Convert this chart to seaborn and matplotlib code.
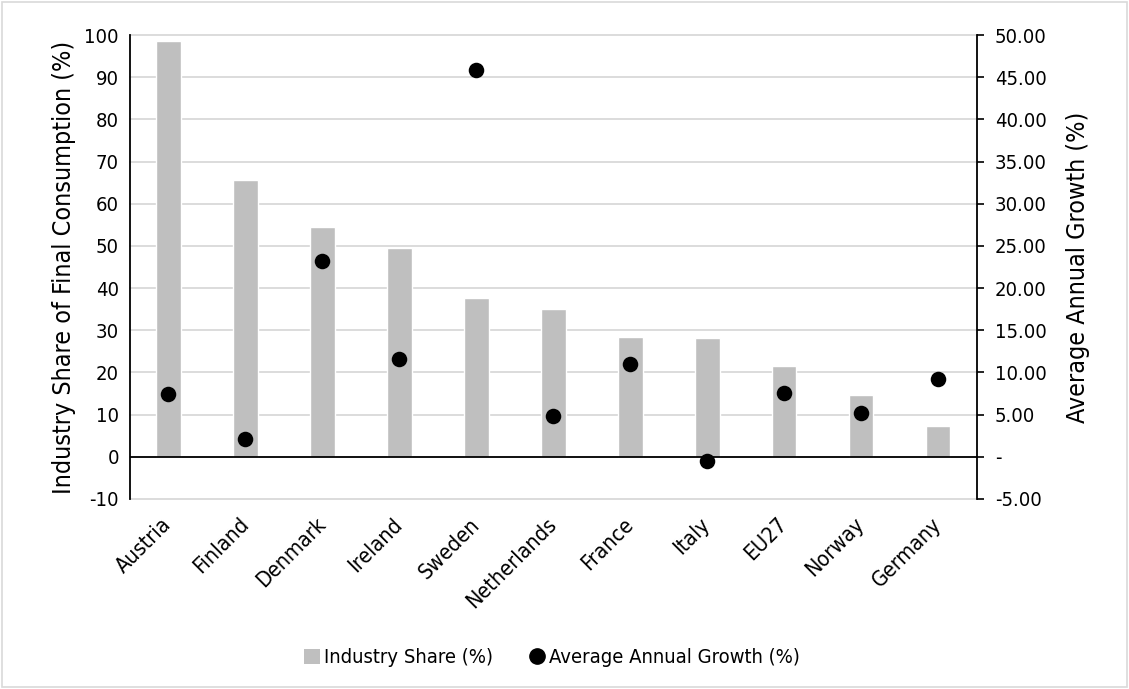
import matplotlib
matplotlib.use("Agg")
import matplotlib.pyplot as plt
from matplotlib.patches import Rectangle, Patch
from matplotlib.lines import Line2D
from matplotlib.ticker import FuncFormatter, MultipleLocator
import seaborn as sns
import pandas as pd

countries = ["Austria", "Finland", "Denmark", "Ireland", "Sweden", "Netherlands",
             "France", "Italy", "EU27", "Norway", "Germany"]
industry_share = [98.6, 65.6, 54.4, 49.4, 37.7, 35.0, 28.5, 28.1, 21.5, 14.7, 7.3]
annual_growth = [7.5, 2.1, 23.2, 11.6, 45.8, 4.8, 11.0, -0.5, 7.6, 5.2, 9.2]

df = pd.DataFrame({"country": countries, "share": industry_share, "growth": annual_growth})

sns.set_style("white")
plt.rcParams["font.family"] = ["DejaVu Sans"]
plt.rcParams["font.stretch"] = "condensed"
plt.rcParams["axes.unicode_minus"] = False
plt.rcParams["text.color"] = "black"
plt.rcParams["axes.labelcolor"] = "black"
plt.rcParams["xtick.color"] = "black"
plt.rcParams["ytick.color"] = "black"
FS = 14.5
LABEL_FS = 18
XFS = 15.5

fig = plt.figure(figsize=(11.29, 6.89), dpi=100)
ax1 = fig.add_axes([0.1151, 0.2758, 0.7499, 0.6734])

GRID = "#d9d9d9"
BAR = "#bfbfbf"

sns.barplot(data=df, x="country", y="share", color=BAR, width=0.32,
            saturation=1, ax=ax1, zorder=2)
ax1.set_ylim(-10, 100)
ax1.set_xlim(-0.5, len(countries) - 0.5)
ax1.yaxis.set_major_locator(MultipleLocator(10))
ax1.grid(axis="y", color=GRID, lw=1.3, zorder=0)
ax1.set_axisbelow(True)
for gl in ax1.get_ygridlines():
    gl.set_clip_on(False)
ax1.axhline(0, color="black", lw=1.3, zorder=3)
ax1.set_xlabel("")
ax1.set_ylabel("Industry Share of Final Consumption (%)", fontsize=LABEL_FS, labelpad=6)
ax1.tick_params(axis="y", labelsize=FS, length=0, pad=8)
ax1.tick_params(axis="x", labelsize=XFS, length=0, pad=16)
for lab in ax1.get_xticklabels():
    lab.set_rotation(45)
    lab.set_ha("right")
    lab.set_va("center")
    lab.set_rotation_mode("anchor")
for side in ["top", "bottom", "right"]:
    ax1.spines[side].set_visible(False)
ax1.spines["left"].set_color("black")
ax1.spines["left"].set_linewidth(1.3)

ax2 = ax1.twinx()
sns.scatterplot(data=df, x="country", y="growth", color="black", s=125,
                edgecolor="black", linewidth=0, ax=ax2, zorder=4, legend=False)
ax2.set_ylim(-5, 50)
ax2.set_xlim(-0.5, len(countries) - 0.5)
ax2.yaxis.set_major_locator(MultipleLocator(5))
ax2.yaxis.set_major_formatter(FuncFormatter(lambda v, p: "-" if abs(v) < 1e-9 else f"{v:.2f}"))
ax2.set_ylabel("Average Annual Growth (%)", fontsize=LABEL_FS, labelpad=14)
ax2.tick_params(axis="y", labelsize=FS, length=5, width=1.2, direction="out", color="black", pad=8)
for side in ["top", "bottom", "left"]:
    ax2.spines[side].set_visible(False)
ax2.spines["right"].set_color("black")
ax2.spines["right"].set_linewidth(1.3)
ax2.set_xlabel("")

handles = [Patch(facecolor=BAR, edgecolor="none", label="Industry Share (%)"),
           Line2D([0], [0], marker="o", color="none", markerfacecolor="black",
                  markeredgecolor="black", markersize=11, label="Average Annual Growth (%)")]
fig.legend(handles=handles, loc="center", bbox_to_anchor=(0.489, 0.045), ncol=2,
           frameon=False, fontsize=FS, handlelength=0.8, handleheight=0.8,
           handletextpad=0.2, columnspacing=1.8)

fig.patches.append(Rectangle((0.002, 0.003), 0.996, 0.994, transform=fig.transFigure,
                             fill=False, edgecolor=GRID, lw=1.2))

fig.savefig("out.png", dpi=100)
